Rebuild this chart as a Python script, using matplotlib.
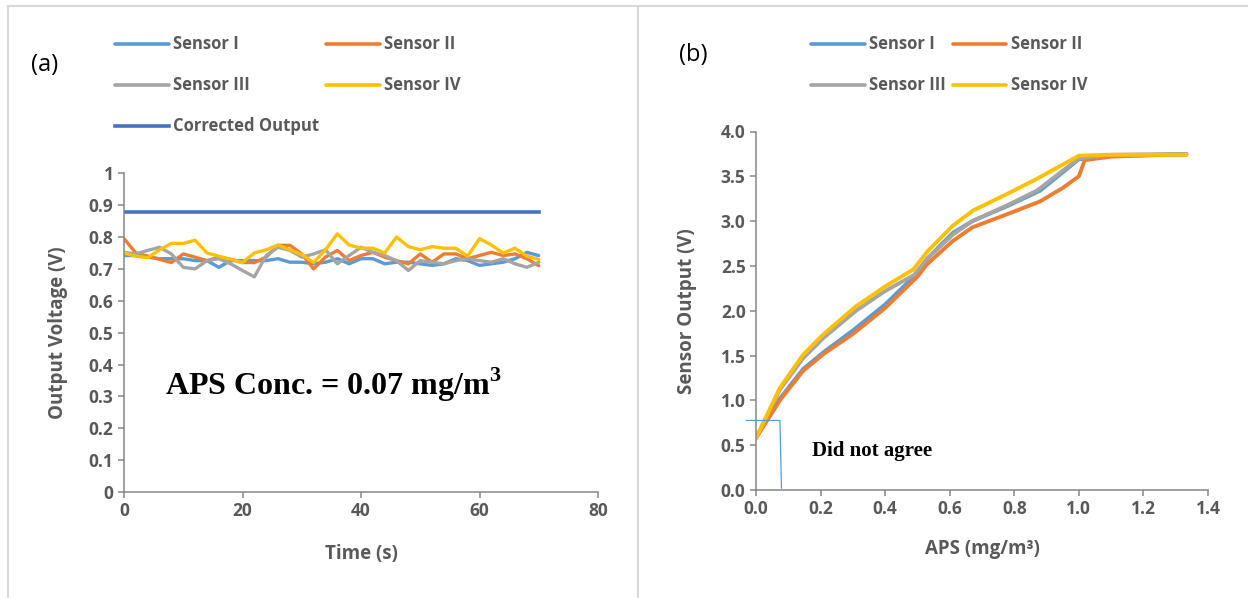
import numpy as np
import matplotlib
matplotlib.use("Agg")
import matplotlib.pyplot as plt
from matplotlib.lines import Line2D

plt.rcParams['font.family'] = ['Open Sans', 'DejaVu Sans']
plt.rcParams['font.weight'] = 'bold'
plt.rcParams['axes.labelweight'] = 'bold'
plt.rcParams['mathtext.fontset'] = 'custom'
plt.rcParams['mathtext.rm'] = 'Liberation Serif'
plt.rcParams['mathtext.bf'] = 'Liberation Serif:bold'

# ---- data (a) : output voltage vs time ----
time_s = list(range(0, 72, 2))
sensor1_a = [0.742, 0.742, 0.737, 0.732, 0.732, 0.732, 0.726, 0.726, 0.705, 0.726, 0.726, 0.726,
             0.726, 0.732, 0.721, 0.721, 0.716, 0.721, 0.732, 0.716, 0.732, 0.732, 0.716, 0.721,
             0.721, 0.716, 0.711, 0.716, 0.732, 0.726, 0.711, 0.716, 0.721, 0.732, 0.752, 0.742]
sensor2_a = [0.795, 0.750, 0.740, 0.730, 0.720, 0.747, 0.737, 0.726, 0.737, 0.730, 0.720, 0.720,
             0.737, 0.774, 0.774, 0.747, 0.700, 0.737, 0.758, 0.726, 0.742, 0.752, 0.737, 0.726,
             0.716, 0.747, 0.721, 0.747, 0.747, 0.732, 0.742, 0.752, 0.742, 0.747, 0.732, 0.710]
sensor3_a = [0.752, 0.747, 0.758, 0.768, 0.747, 0.705, 0.700, 0.726, 0.732, 0.716, 0.695, 0.675,
             0.742, 0.768, 0.758, 0.737, 0.747, 0.760, 0.716, 0.742, 0.768, 0.752, 0.742, 0.726,
             0.695, 0.726, 0.721, 0.716, 0.726, 0.732, 0.726, 0.721, 0.732, 0.716, 0.705, 0.721]
sensor4_a = [0.750, 0.740, 0.735, 0.760, 0.780, 0.780, 0.790, 0.750, 0.740, 0.730, 0.720, 0.750,
             0.760, 0.775, 0.760, 0.745, 0.720, 0.760, 0.810, 0.775, 0.765, 0.765, 0.750, 0.800,
             0.770, 0.760, 0.770, 0.765, 0.765, 0.740, 0.795, 0.775, 0.750, 0.765, 0.740, 0.730]
corrected = [0.88] * len(time_s)

# ---- data (b) : sensor output vs APS ----
aps1 = [0.0, 0.074, 0.146, 0.21, 0.30, 0.40, 0.50, 0.53, 0.61, 0.67, 0.78, 0.88, 1.0, 1.1, 1.333]
out1 = [0.58, 1.02, 1.35, 1.54, 1.78, 2.07, 2.42, 2.58, 2.87, 3.00, 3.17, 3.34, 3.69, 3.73, 3.74]
aps2 = [0.0, 0.074, 0.146, 0.21, 0.30, 0.40, 0.50, 0.53, 0.61, 0.67, 0.78, 0.88, 0.95, 1.0, 1.018, 1.1, 1.333]
out2 = [0.58, 1.00, 1.33, 1.52, 1.74, 2.03, 2.38, 2.52, 2.78, 2.93, 3.08, 3.22, 3.37, 3.50, 3.68, 3.72, 3.75]
aps3 = [0.0, 0.074, 0.146, 0.21, 0.31, 0.40, 0.49, 0.53, 0.61, 0.67, 0.78, 0.87, 1.0, 1.1, 1.333]
out3 = [0.58, 1.12, 1.47, 1.70, 2.00, 2.22, 2.40, 2.58, 2.85, 3.00, 3.18, 3.34, 3.70, 3.74, 3.75]
aps4 = [0.0, 0.074, 0.146, 0.208, 0.31, 0.404, 0.487, 0.533, 0.61, 0.673, 0.776, 0.869, 1.0, 1.085, 1.333]
out4 = [0.58, 1.14, 1.51, 1.735, 2.05, 2.28, 2.46, 2.67, 2.95, 3.12, 3.30, 3.47, 3.73, 3.74, 3.74]
mark_x = [-0.03, 0.074, 0.079]
mark_y = [0.776, 0.776, 0.02]

c1, c2, c3, c4, cc = '#5B9BD5', '#ED7D31', '#A5A5A5', '#FFC000', '#4472C4'
txt = '#595959'
axc = '#868686'

fig = plt.figure(figsize=(12.48, 5.98), dpi=100)

def style(ax):
    for s in ['top', 'right']:
        ax.spines[s].set_visible(False)
    for s in ['left', 'bottom']:
        ax.spines[s].set_color(axc)
        ax.spines[s].set_linewidth(1.1)
    ax.tick_params(colors=axc, length=4, width=1.1, labelcolor=txt, labelsize=12.5)

def row_legend(ax, order, x):
    h, l = ax.get_legend_handles_labels()
    leg = ax.legend([h[i] for i in order], [l[i] for i in order], loc='upper left',
                    bbox_to_anchor=(x/1248, 1-27/598), bbox_transform=fig.transFigure,
                    ncol=2, frameon=False, fontsize=12, handlelength=3.2, handletextpad=0.25,
                    columnspacing=0.45, labelspacing=1.38, borderpad=0)
    for t in leg.get_texts():
        t.set_color(txt)
    for ln in leg.get_lines():
        ln.set_linewidth(2.6)

# panel (a)
ax1 = fig.add_axes([124/1248, 1-492/598, 474/1248, 318.7/598])
kw = dict(lw=2.4, solid_joinstyle='round', solid_capstyle='round')
ax1.plot(time_s, sensor1_a, color=c1, label='Sensor I', **kw)
ax1.plot(time_s, sensor2_a, color=c2, label='Sensor II', **kw)
ax1.plot(time_s, sensor3_a, color=c3, label='Sensor III', **kw)
ax1.plot(time_s, sensor4_a, color=c4, label='Sensor IV', **kw)
ax1.plot(time_s, corrected, color=cc, lw=2.6, label='Corrected Output')
ax1.set_xlim(0, 80)
ax1.set_ylim(0, 1)
ax1.set_xticks([0, 20, 40, 60, 80])
ax1.set_yticks(np.arange(0, 1.01, 0.1))
ax1.set_yticklabels(['0', '0.1', '0.2', '0.3', '0.4', '0.5', '0.6', '0.7', '0.8', '0.9', '1'])
style(ax1)
ax1.set_xlabel('Time (s)', fontsize=13.5, fontweight='bold', color=txt, labelpad=17)
ax1.set_ylabel('Output Voltage (V)', fontsize=13.5, fontweight='bold', color=txt, labelpad=15)
ax1.text(35.4, 0.335, 'APS Conc. = 0.07 mg/m$^{\\mathbf{3}}$', ha='center', va='center',
         fontsize=23, family='Liberation Serif', color='black')
row_legend(ax1, [0, 2, 4, 1, 3], 107)

# panel (b)
ax2 = fig.add_axes([756/1248, 1-490/598, 452/1248, 358.5/598])
kw = dict(lw=2.8, solid_joinstyle='round', solid_capstyle='round')
ax2.plot(aps1, out1, color=c1, label='Sensor I', **kw)
ax2.plot(aps2, out2, color=c2, label='Sensor II', **kw)
ax2.plot(aps3, out3, color=c3, label='Sensor III', **kw)
ax2.plot(aps4, out4, color=c4, label='Sensor IV', **kw)
ax2.plot(mark_x, mark_y, color=c1, lw=0.9, clip_on=False)
ax2.set_xlim(0, 1.4)
ax2.set_ylim(0, 4)
ax2.set_xticks(np.arange(0, 1.41, 0.2))
ax2.set_xticklabels(['%.1f' % v for v in np.arange(0, 1.41, 0.2)])
ax2.set_yticks(np.arange(0, 4.01, 0.5))
ax2.set_yticklabels(['%.1f' % v for v in np.arange(0, 4.01, 0.5)])
style(ax2)
ax2.set_xlabel('APS (mg/m³)', fontsize=13.5, fontweight='bold', color=txt, labelpad=15)
ax2.set_ylabel('Sensor Output (V)', fontsize=13.5, fontweight='bold', color=txt, labelpad=17)
ax2.text(0.173, 0.43, 'Did not agree', ha='left', va='center', fontsize=15,
         family='Liberation Serif', color='black')
row_legend(ax2, [0, 2, 1, 3], 803)

fig.text(45/1248, 1-65/598, '(a)', fontsize=17, fontweight='normal', ha='center', va='center', color='black')
fig.text(693/1248, 1-55/598, '(b)', fontsize=17, fontweight='normal', ha='center', va='center', color='black')

# panel frames
bc = '#D9D9D9'
fig.add_artist(Line2D([8/1248, 1], [1-6/598, 1-6/598], color=bc, lw=1.5))
fig.add_artist(Line2D([8/1248, 8/1248], [0, 1-6/598], color=bc, lw=1.5))
fig.add_artist(Line2D([638/1248, 638/1248], [0, 1-6/598], color=bc, lw=1.5))

fig.savefig('out.png', dpi=100)
